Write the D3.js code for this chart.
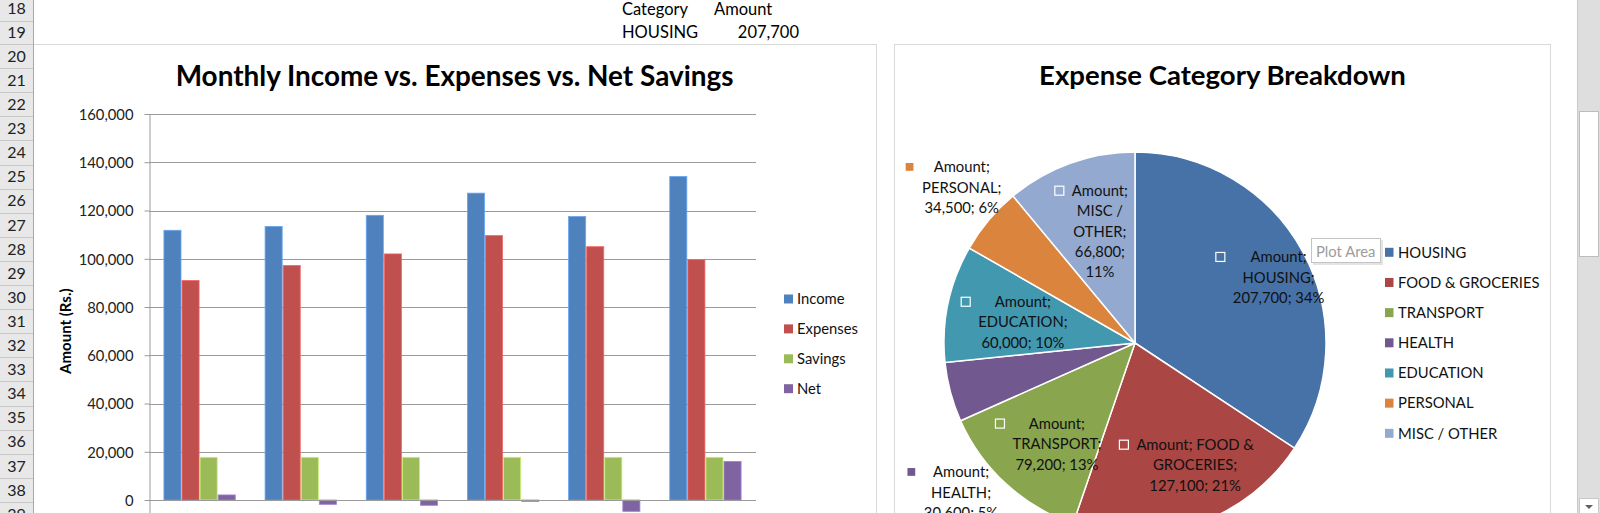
<!DOCTYPE html>
<html><head><meta charset="utf-8">
<script src="https://cdn.jsdelivr.net/npm/d3@7/dist/d3.min.js"></script>
<style>
html,body{margin:0;padding:0;background:#fff;overflow:hidden;}
svg{display:block;font-family:Lato,'Open Sans',sans-serif;}
</style></head><body>
<svg id="c" width="1600" height="513"></svg>
<script>
// ---------------- data ----------------
const months = ["Jan","Feb","Mar","Apr","May","Jun"];
const seriesNames = ["Income","Expenses","Savings","Net"];
const income   = [111800,113400,118000,127200,117500,134100];
const expenses = [91000, 97200,102000,109600,105000, 99600];
const savings  = [17700, 17700, 17700, 17700, 17700, 17700];
const net      = [2100, -1800, -2200, -600, -4700, 16000];
const yTicks   = [0,20000,40000,60000,80000,100000,120000,140000,160000];

const expenseCategories = ["HOUSING","FOOD & GROCERIES","TRANSPORT","HEALTH","EDUCATION","PERSONAL","MISC / OTHER"];
const expenseAmounts    = [207700,127100,79200,30600,60000,34500,66800];

const rowNumbers = [18,19,20,21,22,23,24,25,26,27,28,29,30,31,32,33,34,35,36,37,38,39];
const headerLabels = ["Category","Amount"];

// ---------------- styles / layout ----------------
const svg = d3.select("#c");
const fmt = d3.format(",");
const FS = 14.8;
const barColors = {Income:"#4F81BD",Expenses:"#C0504D",Savings:"#9BBB59",Net:"#8064A2"};
const pieColors = ["#4672A7","#AA4643","#89A54E","#71588F","#4198AF","#DB843D","#93A9CF"];

svg.append("rect").attr("width",1600).attr("height",513).attr("fill","#fff");

// chart frames
svg.append("rect").attr("x",28.5).attr("y",44.5).attr("width",848).attr("height",600)
  .attr("fill","#fff").attr("stroke","#d9d9d9");
svg.append("rect").attr("x",894.5).attr("y",44.5).attr("width",656).attr("height",600)
  .attr("fill","#fff").attr("stroke","#d9d9d9");

// spreadsheet header cells
const cellG = svg.append("g").attr("font-size",16.5).attr("fill","#000");
cellG.append("text").attr("x",622).attr("y",9+6).text(headerLabels[0]);
cellG.append("text").attr("x",714).attr("y",9+6).text(headerLabels[1]);
cellG.append("text").attr("x",622).attr("y",32+6).text(expenseCategories[0]);
cellG.append("text").attr("x",799).attr("y",32+6).attr("text-anchor","end").text(fmt(expenseAmounts[0]));

function fitTitle(sel, targetW, cy){
  const w = sel.node().getComputedTextLength();
  const fs = parseFloat(sel.attr("font-size")) * targetW / w;
  sel.attr("font-size", fs).attr("y", cy + 0.36*fs);
}

// ---------------- bar chart ----------------
const plotL = 149, plotR = 756;
const y = d3.scaleLinear().domain([-20000,160000]).range([548.25,114]);
const x0 = d3.scaleBand().domain(months).range([plotL,plotR]).padding(0);
const gw = x0.bandwidth()*0.715;
const x1 = d3.scaleBand().domain(seriesNames).range([(x0.bandwidth()-gw)/2,(x0.bandwidth()+gw)/2]).padding(0);
const seriesVals = {Income:income,Expenses:expenses,Savings:savings,Net:net};

const bc = svg.append("g");
// gridlines
bc.append("g").selectAll("line").data(yTicks).join("line")
  .attr("x1",plotL).attr("x2",plotR).attr("y1",d=>Math.round(y(d))+0.5).attr("y2",d=>Math.round(y(d))+0.5)
  .attr("stroke","#9a9a9a").attr("stroke-width",1);

// bars
const rows = months.map((m,i)=>({m, vals:seriesNames.map(s=>({s,v:seriesVals[s][i]}))}));
bc.append("g").selectAll("g").data(rows).join("g")
  .attr("transform",d=>`translate(${x0(d.m)},0)`)
  .selectAll("rect").data(d=>d.vals).join("rect")
  .attr("x",d=>x1(d.s)+0.5).attr("width",x1.bandwidth()-1)
  .attr("y",d=>y(Math.max(0,d.v))).attr("height",d=>Math.abs(y(d.v)-y(0)))
  .attr("fill",d=>barColors[d.s])
  .attr("stroke",d=>d3.color(barColors[d.s]).brighter(0.7)).attr("stroke-width",0.8);

// value axis
const yAxis = d3.axisLeft(y).tickValues(yTicks).tickSizeInner(5).tickSizeOuter(0).tickPadding(11)
  .tickFormat(d=>fmt(d));
const ax = bc.append("g").attr("transform",`translate(${plotL+0.5},0)`).call(yAxis);
ax.select(".domain").attr("stroke","#9a9a9a");
ax.selectAll(".tick line").attr("stroke","#9a9a9a");
ax.selectAll(".tick text").attr("font-size",FS).attr("font-family","Lato").attr("fill","#222").attr("dy","0.36em");
// zero (category axis) line
bc.append("line").attr("x1",plotL).attr("x2",plotR).attr("y1",Math.round(y(0))+0.5).attr("y2",Math.round(y(0))+0.5)
  .attr("stroke","#9a9a9a");

// axis title
bc.append("text").attr("transform",`translate(${65+5.5},${(y.range()[0]+y.range()[1])/2}) rotate(-90)`)
  .attr("text-anchor","middle").attr("font-size",15).attr("font-weight","bold").attr("fill","#000")
  .text("Amount (Rs.)");

// title
const t1 = svg.append("text").attr("x",454.6).attr("text-anchor","middle").attr("font-weight","bold")
  .attr("font-size",27).attr("fill","#000").text("Monthly Income vs. Expenses vs. Net Savings");
fitTitle(t1,558,75.5);

// legend
const lg = svg.append("g").selectAll("g").data(seriesNames).join("g")
  .attr("transform",(d,i)=>`translate(784,${299+i*29.9})`);
lg.append("rect").attr("x",0).attr("y",-4.5).attr("width",9).attr("height",9).attr("fill",d=>barColors[d]);
lg.append("text").attr("x",13).attr("y",0).attr("dy","0.36em").attr("font-size",FS).attr("fill","#111").text(d=>d);

// ---------------- pie chart ----------------
const cx = 1135, cy = 343, R = 191;
const total = d3.sum(expenseAmounts);
const pieData = expenseCategories.map((c,i)=>({c, v:expenseAmounts[i], color:pieColors[i]}));
const arcs = d3.pie().sort(null).value(d=>d.v)(pieData);
const arc = d3.arc().innerRadius(0).outerRadius(R);
const pg = svg.append("g").attr("transform",`translate(${cx},${cy})`);
pg.selectAll("path").data(arcs).join("path").attr("d",arc)
  .attr("fill",d=>d.data.color).attr("stroke","#fff").attr("stroke-width",1.5);

const t2 = svg.append("text").attr("x",1222.5).attr("text-anchor","middle").attr("font-weight","bold")
  .attr("font-size",27).attr("fill","#000").text("Expense Category Breakdown");
fitTitle(t2,367,75.5);

// data labels (best-fit placement offsets)
const labelLayout = {
  "HOUSING":         {da: 3.7, rf:0.827, wrap:96},
  "FOOD & GROCERIES":{da:-7.4, rf:0.712, wrap:125},
  "TRANSPORT":       {da:-4.7, rf:0.668, wrap:96},
  "HEALTH":          {da:-25.7,rf:1.200, wrap:85},
  "EDUCATION":       {da:-1.4, rf:0.597, wrap:96},
  "PERSONAL":        {da: 1.9, rf:1.220, wrap:85},
  "MISC / OTHER":    {da: 2.4, rf:0.613, wrap:64}
};
const meas = svg.append("text").attr("font-size",FS).attr("visibility","hidden");
function tw(s){ meas.text(s); return meas.node().getComputedTextLength(); }
function wrap(str, maxW){
  const words = str.split(" "); const lines=[]; let cur="";
  words.forEach(w=>{ const t = cur? cur+" "+w : w; if(cur && tw(t)>maxW){ lines.push(cur); cur=w; } else cur=t; });
  if(cur) lines.push(cur); return lines;
}
const lblG = svg.append("g");
const lineH = 20.3;
arcs.forEach(a=>{
  const L = labelLayout[a.data.c];
  const ang = (a.startAngle+a.endAngle)/2 + L.da*Math.PI/180;
  const r = L.rf*R;
  const p = d3.arc().innerRadius(r).outerRadius(r).centroid({startAngle:ang,endAngle:ang});
  const px = cx+p[0], py = cy+p[1];
  const pct = Math.round(a.data.v/total*100);
  const lines = wrap(`Amount; ${a.data.c}; ${fmt(a.data.v)}; ${pct}%`, L.wrap);
  const maxW = d3.max(lines, tw);
  const n = lines.length;
  const g = lblG.append("g");
  lines.forEach((ln,i)=>{
    g.append("text").attr("x",px).attr("y",py+(i-(n-1)/2)*lineH).attr("dy","0.36em")
      .attr("text-anchor","middle").attr("font-size",FS).attr("fill","#111").text(ln);
  });
  const y0 = py-(n-1)/2*lineH;
  g.append("rect").attr("x",px-maxW/2-8-9).attr("y",y0-4.5).attr("width",9).attr("height",9)
    .attr("fill",a.data.color).attr("stroke","#fff").attr("stroke-width",1.2);
});
meas.remove();

// pie legend
const plg = svg.append("g").selectAll("g").data(pieData).join("g")
  .attr("transform",(d,i)=>`translate(1385,${252.3+i*30.17})`);
plg.append("rect").attr("x",0).attr("y",-4.5).attr("width",8.5).attr("height",9).attr("fill",d=>d.color);
plg.append("text").attr("x",13).attr("y",0).attr("dy","0.36em").attr("font-size",FS).attr("fill","#111").text(d=>d.c);

// "Plot Area" tooltip
svg.append("rect").attr("x",1313).attr("y",240).attr("width",70).attr("height",25).attr("fill","#e4e4e4");
svg.append("rect").attr("x",1311.5).attr("y",238.5).attr("width",69).attr("height",24).attr("fill","#fff").attr("stroke","#c4c4c4");
svg.append("text").attr("x",1316).attr("y",251.5).attr("dy","0.36em").attr("font-size",FS).attr("fill","#9c9c9c").text("Plot Area");

// ---------------- row header ----------------
const rowTop = k => k===18 ? -3.5 : k===19 ? 20.5 : 44 + (k-20)*24.1;
const rowH = k => rowTop(k+1)-rowTop(k);
const rh = svg.append("g");
rh.append("rect").attr("x",0).attr("y",0).attr("width",33).attr("height",513).attr("fill","#e8e8e8");
rh.selectAll("line.sep").data(rowNumbers).join("line").attr("class","sep")
  .attr("x1",0).attr("x2",33).attr("y1",d=>Math.round(rowTop(d+1))+0.5).attr("y2",d=>Math.round(rowTop(d+1))+0.5)
  .attr("stroke","#c8c8c8");
rh.selectAll("text").data(rowNumbers).join("text")
  .attr("x",16.5).attr("y",d=>rowTop(d)+rowH(d)/2).attr("dy","0.36em").attr("text-anchor","middle")
  .attr("font-size",16).attr("fill","#222").text(d=>d);
rh.append("line").attr("x1",33.5).attr("x2",33.5).attr("y1",0).attr("y2",513).attr("stroke","#a8a8a8");

// ---------------- scrollbar ----------------
const sb = svg.append("g");
sb.append("rect").attr("x",1577).attr("y",0).attr("width",23).attr("height",513).attr("fill","#dedede");
sb.append("line").attr("x1",1577.5).attr("x2",1577.5).attr("y1",0).attr("y2",513).attr("stroke","#c9c9c9");
sb.append("rect").attr("x",1579.5).attr("y",111.5).attr("width",19).attr("height",145).attr("fill","#fff").attr("stroke","#bcbcbc");
sb.append("rect").attr("x",1579.5).attr("y",498.5).attr("width",19).attr("height",16).attr("fill","#fff").attr("stroke","#c9c9c9");
sb.append("path").attr("d","M1585,505 L1593,505 L1589,509 Z").attr("fill","#606060");
</script>
</body></html>
